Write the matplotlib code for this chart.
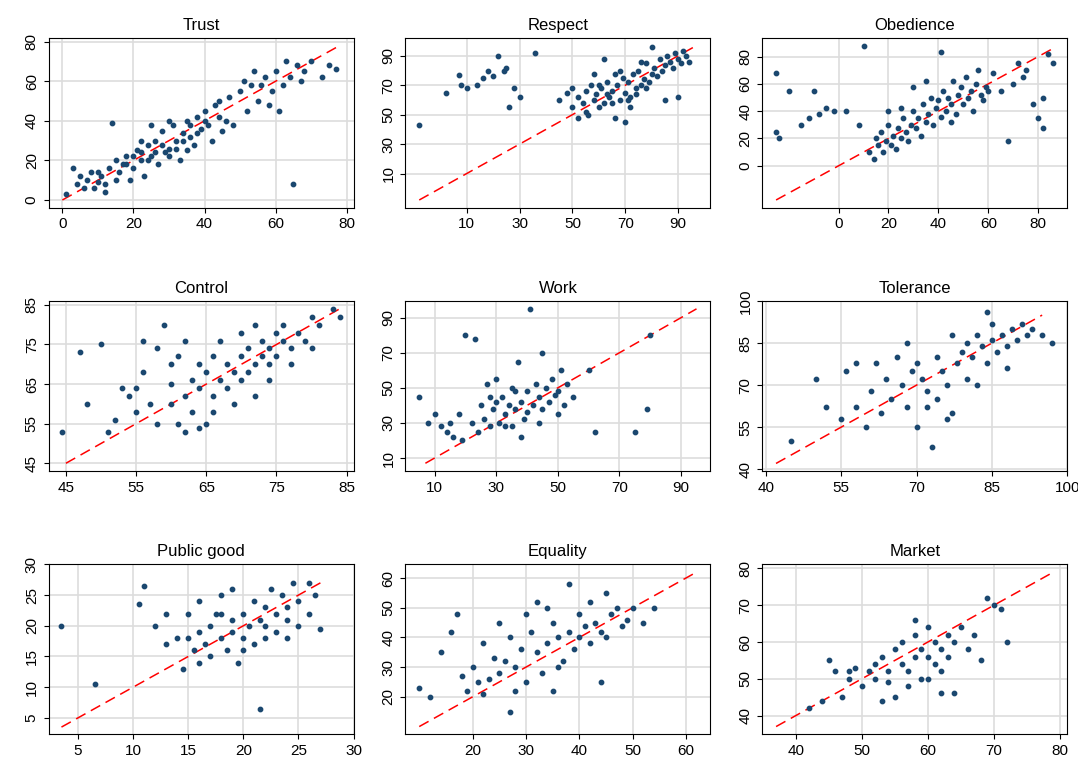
import matplotlib
matplotlib.use("Agg")
import matplotlib.pyplot as plt
import numpy as np

plt.rcParams['font.family'] = ['Liberation Sans', 'DejaVu Sans']

titles = ["Trust", "Respect", "Obedience", "Control", "Work", "Tolerance",
          "Public good", "Equality", "Market"]

trust = """1,3 3,16 4,8 5,12 6,6 7,10 8,14 9,6 10,9 11,12 12,4 13,16 14,39 15,20 16,14 17,18 18,22 19,10 20,16
21,25 22,20 23,12 24,28 25,22 26,30 27,18 28,35 29,24 30,26 31,38 32,30 33,20 34,34 35,40 36,32 37,28 38,42
39,36 40,45 41,38 42,30 43,48 44,42 45,35 46,40 47,52 48,38 50,55 51,60 52,45 53,58 54,65 55,50 56,58 57,62
58,48 59,55 60,65 61,45 62,58 63,70 64,62 65,8 66,68 67,60 68,65 70,70 73,62 77,66 75,68 18,18 20,22 22,24
24,20 26,24 28,28 30,22 32,26 34,30 36,38 38,34 40,40 22,30 25,38 15,10 12,8 10,14 30,40 35,25 44,50"""
respect = """-8,43 2,65 7,77 8,70 10,68 14,70 16,75 18,80 20,76 22,90 24,80 25,82 26,55 28,68 30,62 36,92
45,60 48,65 50,55 52,62 54,58 55,66 56,50 57,70 58,60 59,64 60,55 61,68 62,58 63,72 64,62 65,66 66,48 67,70
68,60 69,75 70,65 71,72 72,55 73,78 74,68 75,80 76,70 77,74 78,85 79,72 80,78 81,82 82,76 83,88 84,80 85,84
86,90 87,86 88,82 89,92 90,88 91,85 92,93 93,90 94,86 62,88 70,45 80,96 68,80 58,78 72,62 76,86 55,52 65,58
60,70 74,64 85,60 90,62 66,78 78,68 50,68 52,48 63,64 71,60"""
obedience = """-25,68 -25,25 -24,20 -20,55 -15,30 -12,35 -10,55 -8,38 -5,42 -2,40 3,40 10,88 8,30
12,10 14,5 15,20 16,15 17,25 18,10 19,18 20,30 21,15 22,22 23,12 24,28 25,20 26,35 27,25 28,18 29,30 30,40
31,28 32,35 33,22 34,45 35,32 36,38 37,50 38,30 39,42 40,48 41,36 42,55 43,40 44,50 45,45 46,62 47,38 48,52
49,58 50,45 51,65 52,50 53,55 54,40 55,60 56,70 57,52 58,48 59,58 60,55 41,83 62,68 65,55 68,18 70,60 72,75
74,65 75,70 78,45 80,35 82,50 84,82 86,75 82,28 30,58 25,42 35,62 45,32 20,40"""
control = """44.5,53 47,73 48,60 50,75 51,53 52,56 53,64 54,62 55,58 56,68 57,60 58,74 58,55 59,80 60,60 60,65
61,72 61,55 62,62 62,76 63,58 63,66 64,64 64,70 65,55 65,68 66,62 66,72 67,66 67,76 68,64 68,70 69,68 69,60
70,72 70,66 71,74 71,68 72,70 72,62 73,76 73,72 74,74 74,70 75,78 75,72 76,76 76,80 77,74 77,70 78,78 79,76
80,82 80,74 81,80 83,84 84,82 56,76 62,53 64,54 55,64 60,70 66,58 70,78 72,80 74,66"""
work = """5,45 8,30 10,35 12,28 14,25 15,30 16,22 18,35 19,20 20,80 22,30 23,78 24,25 25,40 26,32 27,52 28,28
29,38 30,42 31,30 32,45 33,35 34,40 35,50 35,28 36,38 37,65 38,42 39,32 40,48 40,36 41,95 42,40 43,52 44,45
45,38 46,50 47,42 48,55 49,46 50,48 51,60 52,40 53,52 55,45 60,60 62,25 75,25 79,38 80,80 30,55 33,28 38,22
45,70 28,45 36,48 44,30 50,35"""
tolerance = """45,50 50,72 52,62 55,58 56,75 58,62 60,55 61,68 62,78 63,60 64,72 65,65 66,80 67,70 68,62 69,75
70,55 70,78 71,72 72,68 73,48 74,65 74,80 75,75 76,70 77,88 77,60 78,78 79,82 80,72 80,85 81,80 82,88 82,70
83,84 84,78 85,86 85,92 86,82 87,88 88,84 89,90 90,86 91,92 92,88 93,90 95,88 97,85 72,62 84,96 76,58 68,85
58,78 88,76"""
public_good = """3.5,20 6.5,10.5 10.5,23.5 11,26.5 12,20 13,17 14,18 14.5,13 15,22 15.5,16 16,19 16,24 16.5,17
17,20 17,15 17.5,22 18,18 18,25 18.5,16 19,21 19,19 19.5,14 20,22 20,18 20.5,20 21,24 21,17 21.5,6.5 21.5,21
22,20 22,23 22.5,26 23,19 23,22 23.5,25 24,21 24,23 24.5,27 25,20 25,24 26,22 26.5,25 27,19.5 13,22 16,14
18,22 20,16 22,18 24,18 26,27 15,18 19,26"""
equality = """10,23 12,20 14,35 16,42 17,48 18,27 19,22 20,30 21,25 22,38 22,21 23,26 24,33 25,45 25,28 26,32
27,15 27,40 28,30 29,36 30,48 30,25 31,42 32,35 32,52 33,28 34,38 35,45 35,22 36,40 36,30 37,32 38,58 38,42
39,36 40,48 40,40 41,44 42,38 42,52 43,45 44,42 45,55 45,40 46,48 47,50 48,44 49,46 50,50 52,45 54,50 44,25
28,22 34,50"""
market = """42,42 44,44 45,55 47,45 48,50 49,53 50,48 51,52 52,54 52,50 53,56 54,49 54,52 55,58 55,45 56,54
56,60 57,52 57,48 58,56 58,62 59,58 59,50 60,56 60,64 61,54 61,60 62,58 62,52 63,62 63,56 64,46 64,60 65,64
66,58 67,62 68,55 69,72 70,70 72,60 71,69 48,52 53,44 58,66 60,50 46,52 62,46"""

panels = [trust, respect, obedience, control, work, tolerance, public_good, equality, market]
line_lo = [0, -8, -25, 45, 7, 42, 3.5, 10, 37]
line_hi = [78, 97, 85, 84, 95, 95, 27, 62, 79]
ticks = [[0, 20, 40, 60, 80], [10, 30, 50, 70, 90], [0, 20, 40, 60, 80],
         [45, 55, 65, 75, 85], [10, 30, 50, 70, 90], [40, 55, 70, 85, 100],
         [5, 10, 15, 20, 25, 30], [20, 30, 40, 50, 60], [40, 50, 60, 70, 80]]

fig, axes = plt.subplots(3, 3, figsize=(10.78, 7.57), dpi=100)
for ax, title, raw, lo, hi, tk in zip(axes.flat, titles, panels, line_lo, line_hi, ticks):
    pts = np.array([[float(v) for v in p.split(",")] for p in raw.split()])
    ax.grid(True, color='#dddddd', lw=1.2)
    ax.set_axisbelow(True)
    ax.plot([lo, hi], [lo, hi], color='red', ls=(0, (7, 4)), lw=1.1)
    ax.scatter(pts[:, 0], pts[:, 1], s=10, color='#1a476f', zorder=3)
    ax.set_xticks(tk)
    ax.set_yticks(tk)
    ax.tick_params(labelsize=11)
    for lab in ax.get_yticklabels():
        lab.set_rotation(90)
        lab.set_va('center')
    ax.set_title(title, fontsize=12)
    for s in ax.spines.values():
        s.set_linewidth(0.8)

fig.subplots_adjust(left=0.045, right=0.99, top=0.95, bottom=0.03, wspace=0.17, hspace=0.55)
fig.savefig("out.png")
